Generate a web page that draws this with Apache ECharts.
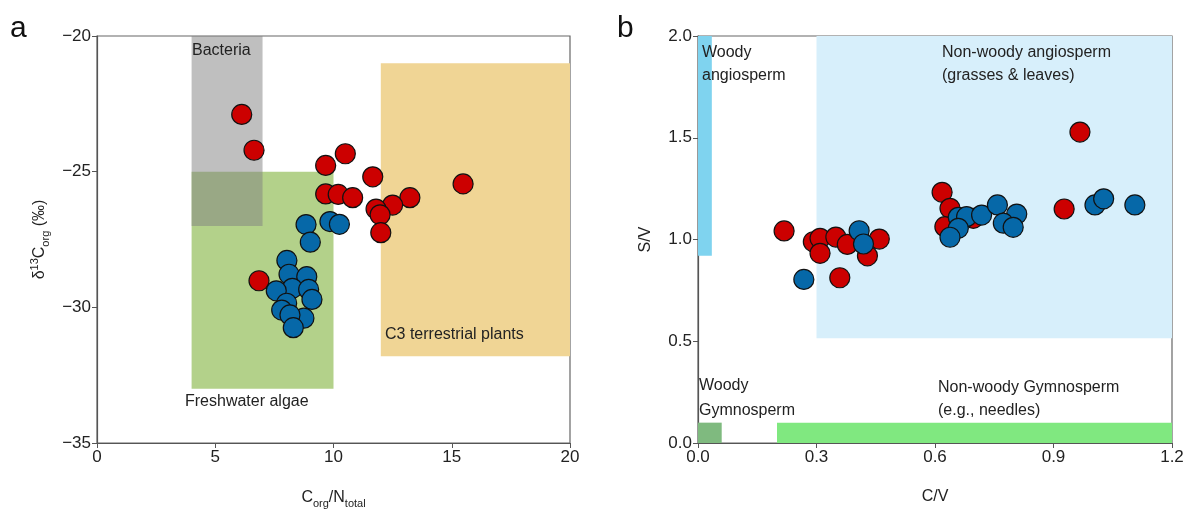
<!DOCTYPE html>
<html><head><meta charset="utf-8">
<script src="https://cdn.jsdelivr.net/npm/echarts@6/dist/echarts.min.js"></script>
<style>html,body{margin:0;padding:0;background:#fff}#c{width:1188px;height:512px}</style>
</head><body><div id="c"></div>
<script>
// Panel a: C/N vs d13C
const aRed = [[6.12,-22.89],[6.64,-24.21],[10.5,-24.34],[9.67,-24.77],[11.66,-25.19],[9.67,-25.82],[10.2,-25.84],[10.81,-25.96],[13.23,-25.96],[12.5,-26.23],[11.8,-26.38],[11.97,-26.59],[12.0,-27.25],[6.85,-29.02],[15.48,-25.45]];
const aBlue = [[8.84,-26.95],[9.85,-26.84],[10.25,-26.94],[9.02,-27.6],[8.03,-28.27],[8.12,-28.78],[8.87,-28.87],[8.26,-29.3],[7.58,-29.39],[8.95,-29.34],[9.09,-29.71],[8.02,-29.85],[7.81,-30.1],[8.75,-30.4],[8.16,-30.28],[8.3,-30.75]];
// Panel b: C/V vs S/V
const bRed = [[0.218,1.042],[0.292,0.989],[0.309,1.006],[0.309,0.932],[0.349,1.012],[0.378,0.976],[0.459,1.002],[0.429,0.920],[0.359,0.812],[0.967,1.528],[0.618,1.232],[0.638,1.153],[0.625,1.063],[0.697,1.104],[0.927,1.150]];
const bBlue = [[0.408,1.043],[0.419,0.978],[0.268,0.804],[0.659,1.109],[0.680,1.112],[0.718,1.120],[0.758,1.170],[0.807,1.125],[0.773,1.080],[0.798,1.060],[0.659,1.055],[0.638,1.011],[1.005,1.170],[1.027,1.200],[1.106,1.170]];
// Shaded regions [x1, y1, x2, y2]
const aAlgae = [4,-25,10,-33];
const aBacteria = [4,-20,7,-27];
const aC3 = [12,-21,20,-31.8];
const bWoodyAng = [0,2.0,0.035,0.92];
const bNonWoodyAng = [0.3,2.0,1.2,0.515];
const bWoodyGym = [0,0,0.06,0.1];
const bNonWoodyGym = [0.2,0,1.2,0.1];
const aXTicks = [0,5,10,15,20];
const aYTicks = [-35,-30,-25,-20];
const bXTicks = [0,0.3,0.6,0.9,1.2];
const bYTicks = [0,0.5,1.0,1.5,2.0];

const FONT = 'Liberation Sans, Arial, sans-serif';
const AX = '#555';
function area(r, color, opacity){
  return [{xAxis:r[0], yAxis:r[1], itemStyle:{color:color, opacity:opacity}}, {xAxis:r[2], yAxis:r[3]}];
}
function axisCommon(){
  return {
    axisLine:{show:true, onZero:false, lineStyle:{color:AX, width:1.2}},
    axisTick:{show:true, inside:false, length:5, lineStyle:{color:AX}},
    axisLabel:{color:'#222', fontSize:17, fontFamily:FONT, margin:6},
    splitLine:{show:false},
    nameTextStyle:{color:'#222', fontSize:16, fontFamily:FONT}
  };
}
const base = {fontSize:16, color:'#222', fontFamily:FONT, lineHeight:22, verticalAlign:'middle'};
const sub = {fontSize:11, color:'#222', fontFamily:FONT, lineHeight:22, verticalAlign:'bottom'};
const sup = {fontSize:11, color:'#222', fontFamily:FONT, lineHeight:22, verticalAlign:'top'};
const pt = (c)=>({color:c, borderColor:'#111', borderWidth:1.2, opacity:1});

const option = {
  animation:false,
  grid:[
    {left:97, top:36, width:473, height:407, show:true, borderColor:'#666', borderWidth:1.2, backgroundColor:'transparent', outerBoundsMode:'none', containLabel:false},
    {left:698, top:36, width:474, height:407, show:true, borderColor:'#666', borderWidth:1.2, backgroundColor:'transparent', outerBoundsMode:'none', containLabel:false}
  ],
  xAxis:[
    Object.assign(axisCommon(), {type:'value', gridIndex:0, min:0, max:20, interval:5,
      name:'{b|C}{s|org}{b|/N}{s|total}', nameLocation:'middle', nameGap:44,
      nameTextStyle:{rich:{b:base, s:sub}}}),
    Object.assign(axisCommon(), {type:'value', gridIndex:1, min:0, max:1.2, interval:0.3,
      name:'C/V', nameLocation:'middle', nameGap:46,
      axisLabel:{color:'#222', fontSize:17, fontFamily:FONT, margin:6, formatter:v=>v.toFixed(1)}})
  ],
  yAxis:[
    Object.assign(axisCommon(), {type:'value', gridIndex:0, min:-35, max:-20, interval:5,
      name:'{b|δ}{p|13}{b|C}{s|org}{b| (‰)}', nameLocation:'middle', nameGap:46, nameRotate:90,
      nameTextStyle:{rich:{b:base, s:sub, p:sup}},
      axisLabel:{color:'#222', fontSize:17, fontFamily:FONT, margin:6, formatter:v=>String(v).replace('-','\u2212')}}),
    Object.assign(axisCommon(), {type:'value', gridIndex:1, min:0, max:2.0, interval:0.5,
      name:'S/V', nameLocation:'middle', nameGap:44, nameRotate:90,
      axisLabel:{color:'#222', fontSize:17, fontFamily:FONT, margin:6, formatter:v=>v.toFixed(1)}})
  ],
  series:[
    {type:'scatter', xAxisIndex:0, yAxisIndex:0, data:[], silent:true,
      markArea:{silent:true, label:{show:false}, data:[
        area(aC3,'#f0d595',1),
        area(aAlgae,'#b3d18a',1),
        area(aBacteria,'#808080',0.5)
      ]}},
    {type:'scatter', xAxisIndex:1, yAxisIndex:1, data:[], silent:true,
      markArea:{silent:true, label:{show:false}, data:[
        area(bNonWoodyAng,'#d7effb',1),
        area(bWoodyAng,'#7fd3ef',1),
        area(bWoodyGym,'#7fba7f',1),
        area(bNonWoodyGym,'#80e880',1)
      ]}},
    {type:'scatter', xAxisIndex:0, yAxisIndex:0, data:aRed, symbolSize:20, itemStyle:pt('#cc0000'), z:5},
    {type:'scatter', xAxisIndex:0, yAxisIndex:0, data:aBlue, symbolSize:20, itemStyle:pt('#0668a8'), z:6},
    {type:'scatter', xAxisIndex:1, yAxisIndex:1, data:bRed, symbolSize:20, itemStyle:pt('#cc0000'), z:5},
    {type:'scatter', xAxisIndex:1, yAxisIndex:1, data:bBlue, symbolSize:20, itemStyle:pt('#0668a8'), z:6}
  ],
  graphic:[
    {type:'text', z:100, left:10, top:14, style:{text:'a', font:'30px '+FONT, fill:'#111'}},
    {type:'text', z:100, left:617, top:14, style:{text:'b', font:'30px '+FONT, fill:'#111'}},
    {type:'text', z:100, left:192, top:43, style:{text:'Bacteria', font:'16px '+FONT, fill:'#222'}},
    {type:'text', z:100, left:185, top:394, style:{text:'Freshwater algae', font:'16px '+FONT, fill:'#222'}},
    {type:'text', z:100, left:385, top:327, style:{text:'C3 terrestrial plants', font:'16px '+FONT, fill:'#222'}},
    {type:'text', z:100, left:702, top:41, style:{text:'Woody\nangiosperm', font:'16px '+FONT, fill:'#222', lineHeight:23}},
    {type:'text', z:100, left:942, top:41, style:{text:'Non-woody angiosperm\n(grasses & leaves)', font:'16px '+FONT, fill:'#222', lineHeight:23}},
    {type:'text', z:100, left:699, top:373, style:{text:'Woody\nGymnosperm', font:'16px '+FONT, fill:'#222', lineHeight:25}},
    {type:'text', z:100, left:938, top:376, style:{text:'Non-woody Gymnosperm\n(e.g., needles)', font:'16px '+FONT, fill:'#222', lineHeight:23}}
  ]
};
const chart = echarts.init(document.getElementById('c'), null, {renderer:'canvas'});
chart.setOption(option);
</script></body></html>
